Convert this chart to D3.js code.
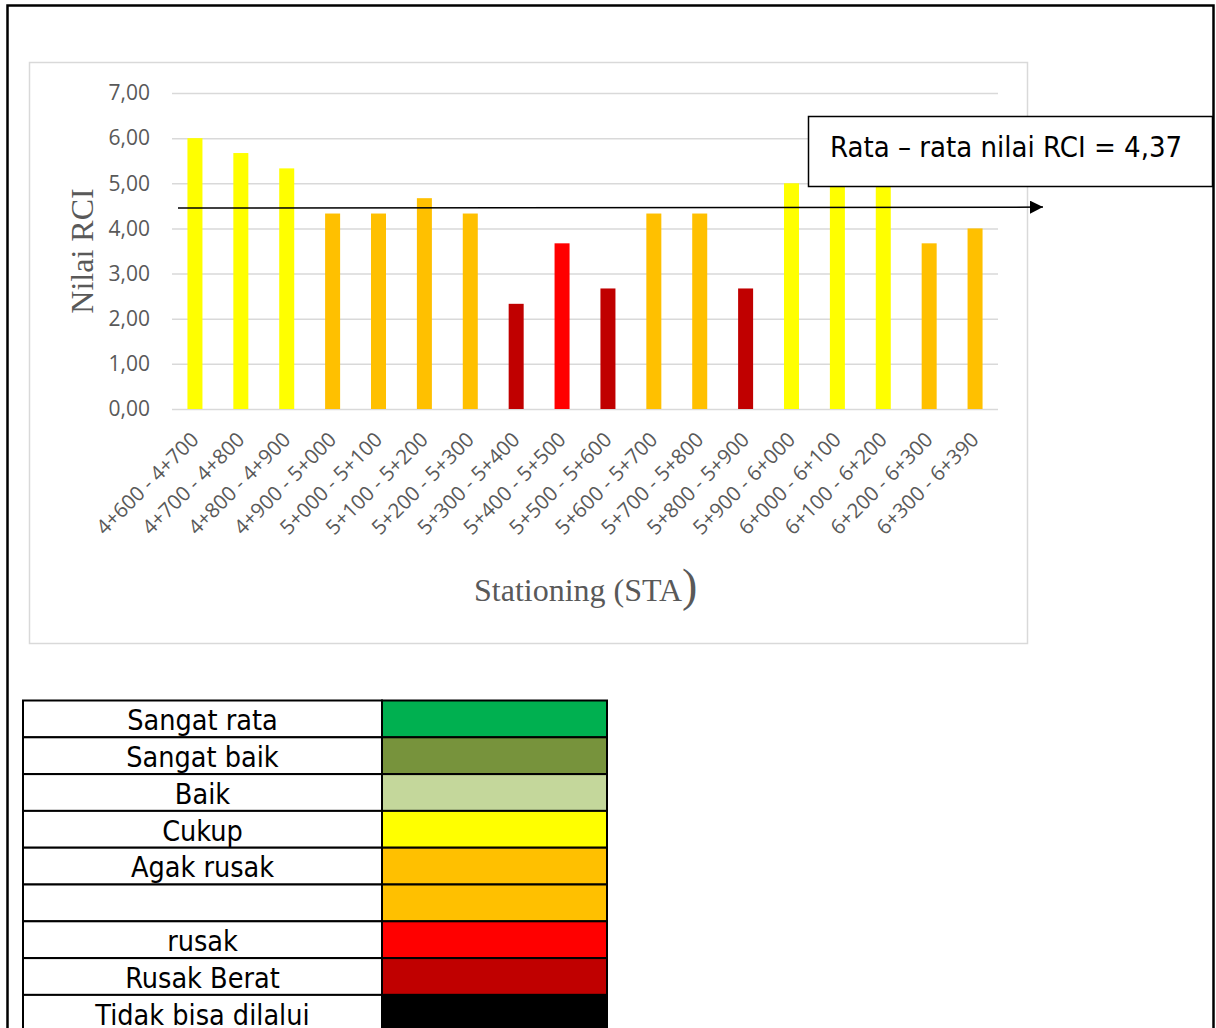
<!DOCTYPE html>
<html>
<head>
<meta charset="utf-8">
<script src="https://cdn.jsdelivr.net/npm/d3@7"></script>
<style>
  body { margin: 0; background: #fff; }
  svg { display: block; }
</style>
</head>
<body>
<div id="chart-area"></div>
<script>
// data
var stations = ["4+600 - 4+700", "4+700 - 4+800", "4+800 - 4+900", "4+900 - 5+000",
  "5+000 - 5+100", "5+100 - 5+200", "5+200 - 5+300", "5+300 - 5+400", "5+400 - 5+500",
  "5+500 - 5+600", "5+600 - 5+700", "5+700 - 5+800", "5+800 - 5+900", "5+900 - 6+000",
  "6+000 - 6+100", "6+100 - 6+200", "6+200 - 6+300", "6+300 - 6+390"];
var rci = [6.00, 5.67, 5.33, 4.33, 4.33, 4.67, 4.33, 2.33, 3.67, 2.67, 4.33, 4.33, 2.67, 5.00, 5.00, 5.00, 3.67, 4.00];
var kondisi = ["Cukup", "Cukup", "Cukup", "Agak rusak", "Agak rusak", "Agak rusak", "Agak rusak",
  "Rusak Berat", "rusak", "Rusak Berat", "Agak rusak", "Agak rusak", "Rusak Berat",
  "Cukup", "Cukup", "Cukup", "Agak rusak", "Agak rusak"];
var yTicks = [0, 1, 2, 3, 4, 5, 6, 7];
var avgLine = 4.45;   // where the hand drawn arrow sits
var avgText = "Rata \u2013 rata nilai RCI = 4,37";

var legendLabels = ["Sangat rata", "Sangat baik", "Baik", "Cukup", "Agak rusak", "", "rusak", "Rusak Berat", "Tidak bisa dilalui"];
var legendColors = ["#00b050", "#77933c", "#c4d79b", "#ffff00", "#ffc000", "#ffc000", "#ff0000", "#c00000", "#000000"];

var W = 1216, H = 1028;

var svg = d3.select("#chart-area").append("svg")
  .attr("width", W)
  .attr("height", H);

// page frame
svg.append("rect")
  .attr("x", 7.5).attr("y", 5.5)
  .attr("width", 1206).attr("height", 1040)
  .attr("fill", "none").attr("stroke", "#000").attr("stroke-width", 2.5);

// chart area frame
svg.append("rect")
  .attr("x", 29.5).attr("y", 62.5)
  .attr("width", 998).attr("height", 581)
  .attr("fill", "#fff").attr("stroke", "#d9d9d9").attr("stroke-width", 1.5);

var x = d3.scaleBand()
  .domain(stations)
  .range([172, 998])
  .paddingInner(0.673)
  .paddingOuter(0.3365);

var y = d3.scaleLinear()
  .domain([0, 7])
  .range([409, 93]);

var colour = d3.scaleOrdinal()
  .domain(legendLabels.filter(function(d){ return d !== ""; }))
  .range(legendColors.filter(function(d, i){ return legendLabels[i] !== ""; }));

var id = d3.formatLocale({ decimal: ",", thousands: ".", grouping: [3], currency: ["", ""] });
var fmt = id.format(".2f");

// gridlines
var grid = svg.append("g")
  .attr("transform", "translate(172,0)")
  .call(d3.axisLeft(y).tickValues(yTicks).tickSize(-826).tickFormat(""));
grid.select(".domain").remove();
grid.selectAll("line").attr("stroke", "#d9d9d9").attr("stroke-width", 1.5);

// y labels
var yAxis = svg.append("g")
  .attr("transform", "translate(150,0)")
  .call(d3.axisLeft(y).tickValues(yTicks).tickSize(0).tickPadding(0).tickFormat(fmt));
yAxis.select(".domain").remove();
yAxis.selectAll("text")
  .attr("fill", "#595959")
  .style("font-family", "'Open Sans', sans-serif")
  .style("font-size", "21px");

// bars
svg.selectAll("rect.bar")
  .data(rci)
  .enter()
  .append("rect")
    .attr("class", "bar")
    .attr("x", function(d, i){ return x(stations[i]); })
    .attr("y", function(d){ return y(d); })
    .attr("width", x.bandwidth())
    .attr("height", function(d){ return y(0) - y(d); })
    .attr("fill", function(d, i){ return colour(kondisi[i]); });

// x labels
svg.selectAll("text.xlab")
  .data(stations)
  .enter()
  .append("text")
    .attr("class", "xlab")
    .attr("transform", function(d){
      return "translate(" + (x(d) + x.bandwidth() / 2 + 5) + ",441) rotate(-45)";
    })
    .attr("text-anchor", "end")
    .attr("fill", "#595959")
    .style("font-family", "'Open Sans', sans-serif")
    .style("font-size", "20.5px")
    .text(function(d){ return d; });

// axis titles
svg.append("text")
  .attr("transform", "translate(93,251) rotate(-90)")
  .attr("text-anchor", "middle")
  .attr("fill", "#595959")
  .style("font-family", "'Liberation Serif', 'Times New Roman', serif")
  .style("font-size", "32px")
  .text("Nilai RCI");

var xt = svg.append("text")
  .attr("x", 474).attr("y", 601)
  .attr("fill", "#595959")
  .style("font-family", "'Liberation Serif', 'Times New Roman', serif")
  .style("font-size", "32px");
xt.append("tspan").text("Stationing (STA");
xt.append("tspan").style("font-size", "46px").text(")");

// average arrow
var defs = svg.append("defs");
defs.append("marker")
  .attr("id", "arrow")
  .attr("viewBox", "0 0 10 10")
  .attr("refX", 10).attr("refY", 5)
  .attr("markerUnits", "userSpaceOnUse")
  .attr("orient", "auto")
  .attr("markerWidth", 15).attr("markerHeight", 13)
  .append("path")
    .attr("d", "M0,0 L10,5 L0,10 Z")
    .attr("fill", "#000");

svg.append("line")
  .attr("x1", 178).attr("x2", 1043)
  .attr("y1", y(avgLine)).attr("y2", y(avgLine) - 1)
  .attr("stroke", "#000").attr("stroke-width", 1.5)
  .attr("marker-end", "url(#arrow)");

// annotation box
svg.append("rect")
  .attr("x", 808.5).attr("y", 116.5)
  .attr("width", 404).attr("height", 70)
  .attr("fill", "#fff").attr("stroke", "#000").attr("stroke-width", 1.5);
svg.append("text")
  .attr("x", 830).attr("y", 157)
  .attr("fill", "#000")
  .style("font-family", "'DejaVu Sans Condensed', 'DejaVu Sans', sans-serif")
  .style("font-size", "29px")
  .text(avgText);

// legend table
var rowH = 36.8, tx = 23, ty = 700.5, colW = 359, boxW = 225;
var rows = svg.selectAll("g.lrow")
  .data(legendLabels)
  .enter()
  .append("g")
    .attr("class", "lrow")
    .attr("transform", function(d, i){ return "translate(" + tx + "," + (ty + i * rowH) + ")"; });

rows.append("rect")
  .attr("width", colW).attr("height", rowH)
  .attr("fill", "#fff").attr("stroke", "#000").attr("stroke-width", 2);
rows.append("rect")
  .attr("x", colW).attr("width", boxW).attr("height", rowH)
  .attr("fill", function(d, i){ return legendColors[i]; })
  .attr("stroke", "#000").attr("stroke-width", 2);
rows.append("text")
  .attr("x", colW / 2).attr("y", rowH - 7)
  .attr("text-anchor", "middle")
  .attr("fill", "#000")
  .style("font-family", "'DejaVu Sans Condensed', 'DejaVu Sans', sans-serif")
  .style("font-size", "28.5px")
  .text(function(d){ return d; });
</script>
</body>
</html>
